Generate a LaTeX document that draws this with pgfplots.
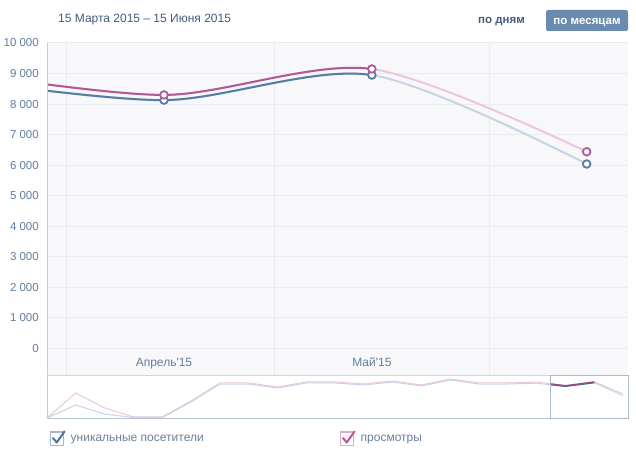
\documentclass[border=0pt]{standalone}
\usepackage{pgfplots}
\pgfplotsset{compat=1.18}
\usepackage{fontspec}
\setmainfont{Liberation Sans}[Ligatures=TeXOff]
\definecolor{vkblue}{RGB}{88,124,166}
\definecolor{vkpink}{RGB}{178,90,152}
\definecolor{vkbluef}{RGB}{198,212,228}
\definecolor{vkpinkf}{RGB}{235,199,221}
\definecolor{gridc}{RGB}{233,236,241}
\definecolor{bgc}{RGB}{248,248,250}
\definecolor{labc}{RGB}{98,126,160}
\definecolor{titc}{RGB}{66,92,128}
\definecolor{btnc}{RGB}{106,139,176}
\definecolor{framec}{RGB}{192,204,218}
\definecolor{navtop}{RGB}{205,215,227}
\definecolor{navbot}{RGB}{182,196,213}
\definecolor{selc}{RGB}{172,185,202}
\definecolor{legc}{RGB}{108,128,156}
\definecolor{cbblue}{RGB}{160,184,212}
\definecolor{cbpink}{RGB}{220,172,206}
\definecolor{ckblue}{RGB}{78,116,162}
\definecolor{ckpink}{RGB}{180,88,152}

\pgfplotstableread{
x y
0 8850
31 8130
61 8950
92 6040
}\mainblue
\pgfplotstableread{
x y
0 9100
31 8300
61 9150
92 6440
}\mainpink
\pgfplotstableread{
x y
0 1000
1 3930
2 1900
3 1110
4 1110
5 4610
6 8670
7 8670
8 7770
9 8900
10 8900
11 8450
12 9130
13 8220
14 9580
15 8670
16 8670
17 8850
18 8130
19 8950
20 6040
}\navblue
\pgfplotstableread{
x y
0 1000
1 6640
2 3260
3 1230
4 1230
5 4840
6 8900
7 8900
8 8000
9 9130
10 9130
11 8670
12 9350
13 8450
14 9800
15 8900
16 8900
17 9100
18 8300
19 9150
20 6440
}\navpink

\begin{document}
\begin{tikzpicture}[x=1pt,y=1pt]
\path[use as bounding box] (0,0) rectangle (636,455);
\fill[white] (0,0) rectangle (636,455);

% main axis: background, grid, labels, faded curves
\begin{axis}[at={(47pt,80pt)}, anchor=south west, scale only axis,
  width=581pt, height=332pt,
  xmin=14.12, xmax=97.96, ymin=-867, ymax=10000,
  axis background/.style={fill=bgc},
  axis line style={draw=none},
  xtick={17,47,78}, xticklabels={},
  ytick={0,1000,2000,3000,4000,5000,6000,7000,8000,9000,10000},
  yticklabels={0,1 000,2 000,3 000,4 000,5 000,6 000,7 000,8 000,9 000,10 000},
  scaled y ticks=false,
  major tick length=0pt,
  xmajorgrids, ymajorgrids,
  major grid style={gridc, line width=1pt},
  yticklabel style={font=\fontsize{11.5}{13}\selectfont, text=labc, anchor=east, inner sep=0pt, xshift=-8pt},
]
\addplot[vkbluef, line width=2pt, smooth] table {\mainblue};
\addplot[vkpinkf, line width=2pt, smooth] table {\mainpink};
\node[anchor=base, font=\fontsize{12}{14}\selectfont, text=labc] at (axis cs:31,-590) {Апрель'15};
\node[anchor=base, font=\fontsize{12}{14}\selectfont, text=labc] at (axis cs:61,-590) {Май'15};
\end{axis}

% solid part of the curves (up to May)
\begin{axis}[at={(47pt,80pt)}, anchor=south west, scale only axis,
  width=324.9pt, height=332pt,
  xmin=14.12, xmax=61, ymin=-867, ymax=10000,
  axis line style={draw=none}, xtick=\empty, ytick=\empty]
\addplot[vkblue, line width=2pt, smooth] table {\mainblue};
\addplot[vkpink, line width=2pt, smooth] table {\mainpink};
\end{axis}

% markers
\begin{axis}[at={(47pt,80pt)}, anchor=south west, scale only axis,
  width=581pt, height=332pt,
  xmin=14.12, xmax=97.96, ymin=-867, ymax=10000,
  axis line style={draw=none}, xtick=\empty, ytick=\empty, clip=false]
\addplot[only marks, mark=*, mark size=3.8pt, mark options={fill=white, draw=vkblue, line width=1.8pt}, restrict x to domain=20:100] table {\mainblue};
\addplot[only marks, mark=*, mark size=3.8pt, mark options={fill=white, draw=vkpink, line width=1.8pt}, restrict x to domain=20:100] table {\mainpink};
\end{axis}

% navigator
\begin{axis}[at={(47pt,37pt)}, anchor=south west, scale only axis,
  width=581pt, height=43pt,
  xmin=0, xmax=20.17, ymin=1000, ymax=10700,
  axis line style={draw=none}, xtick=\empty, ytick=\empty, clip=false]
\addplot[vkbluef, line width=1pt] table {\navblue};
\addplot[vkpinkf, line width=1pt] table {\navpink};
\end{axis}
\begin{axis}[at={(550.2pt,37pt)}, anchor=south west, scale only axis,
  width=44.1pt, height=43pt,
  xmin=17.47, xmax=19, ymin=1000, ymax=10700,
  axis line style={draw=none}, xtick=\empty, ytick=\empty]
\addplot[vkblue!85!black, line width=1.2pt] table {\navblue};
\addplot[vkpink!85!black, line width=1.2pt] table {\navpink};
\end{axis}

% frame lines
\draw[framec, line width=1pt] (47,412) -- (47,36.5);
\draw[navtop, line width=1pt] (47,80) -- (628,80);
\draw[navbot, line width=1pt] (47,37) -- (628,37);
\draw[selc, line width=1pt] (550.2,37) rectangle (628,80);

% title and buttons
\node[anchor=base west, inner sep=0pt, font=\fontsize{12}{14}\selectfont, text=titc] at (58,432.5) {15 Марта 2015 – 15 Июня 2015};
\node[anchor=base west, inner sep=0pt, font=\fontsize{11.5}{14}\selectfont\bfseries, text=titc] at (478,431) {по дням};
\fill[btnc, rounded corners=2pt] (546,424) rectangle (628,445);
\node[anchor=base, inner sep=0pt, font=\fontsize{11.5}{14}\selectfont\bfseries, text=white] at (587,430.5) {по месяцам};

% legend
\draw[cbblue, fill=white, line width=1.2pt] (50.5,9.5) rectangle (63.5,23);
\draw[ckblue, line width=2pt, line cap=round, line join=round] (53,17) -- (56.7,12.5) -- (64.5,23.5);
\node[anchor=base west, inner sep=0pt, font=\fontsize{12}{14}\selectfont, text=legc] at (70.5,14) {уникальные посетители};
\draw[cbpink, fill=white, line width=1.2pt] (340.5,9.5) rectangle (353.5,23);
\draw[ckpink, line width=2pt, line cap=round, line join=round] (343,17) -- (346.7,12.5) -- (354.5,23.5);
\node[anchor=base west, inner sep=0pt, font=\fontsize{12}{14}\selectfont, text=legc] at (360.5,14) {просмотры};
\end{tikzpicture}
\end{document}
